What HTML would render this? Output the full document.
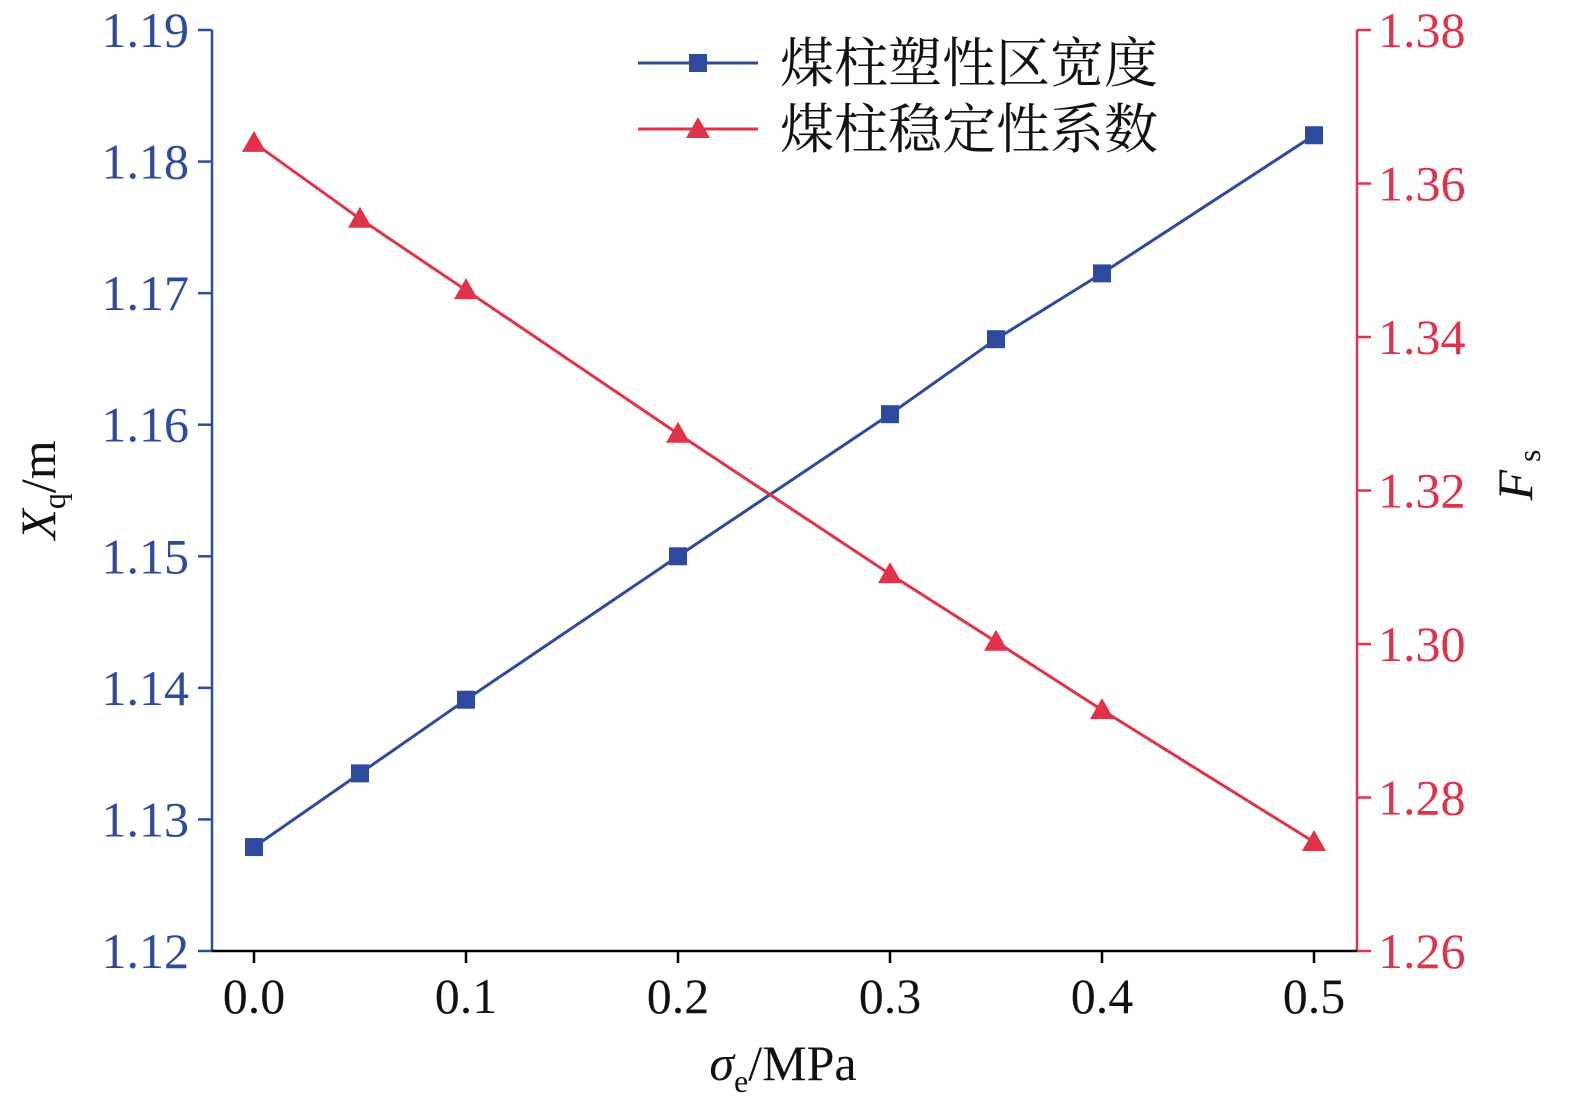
<!DOCTYPE html>
<html><head><meta charset="utf-8">
<style>
html,body{margin:0;padding:0;background:#fff;}
svg{display:block;}
text{font-family:"Liberation Serif","Noto Serif CJK SC",serif;}
</style></head>
<body>
<svg id="chart" width="1575" height="1113" viewBox="0 0 1575 1113" xmlns="http://www.w3.org/2000/svg"></svg>
<script>
const xValues = [0, 0.05, 0.1, 0.2, 0.3, 0.35, 0.4, 0.5];
const widthSeries = [1.1279, 1.1335, 1.1391, 1.1500, 1.1608, 1.1665, 1.1715, 1.1820];
const stabilitySeries = [1.3653, 1.3554, 1.3461, 1.3274, 1.3091, 1.3003, 1.2914, 1.2742];
const xTicks = [0.0, 0.1, 0.2, 0.3, 0.4, 0.5];
const leftTicks = [1.12, 1.13, 1.14, 1.15, 1.16, 1.17, 1.18, 1.19];
const rightTicks = [1.26, 1.28, 1.30, 1.32, 1.34, 1.36, 1.38];

const NS = "http://www.w3.org/2000/svg";
const svg = document.getElementById('chart');
const L = 212, R = 1357, T = 30, B = 951;
const BLUE = '#2e4a9e', RED = '#e0334a';
const xS = v => 254 + v * 2120;
const yL = v => B - (v - 1.12) / 0.07 * (B - T);
const yR = v => B - (v - 1.26) / 0.12 * (B - T);
function mk(tag, attrs, parent) {
  const e = document.createElementNS(NS, tag);
  for (const k in attrs) e.setAttribute(k, attrs[k]);
  (parent || svg).appendChild(e);
  return e;
}
const ax = mk('g', {});


mk('line', {x1: L, y1: T, x2: L, y2: B, stroke: BLUE, 'stroke-width': 2.5}, ax);
mk('line', {x1: R, y1: T, x2: R, y2: B, stroke: RED, 'stroke-width': 2.5}, ax);
mk('line', {x1: L, y1: B, x2: R, y2: B, stroke: '#000', 'stroke-width': 2.5}, ax);
xTicks.forEach(v => {
  mk('line', {x1: xS(v), y1: B, x2: xS(v), y2: B + 12, stroke: '#000', 'stroke-width': 2.5}, ax);
  const t = mk('text', {x: xS(v), y: 1013, 'text-anchor': 'middle', 'font-size': 50, fill: '#111'}, ax);
  t.textContent = v.toFixed(1);
  
  
});
leftTicks.forEach(v => {
  mk('line', {x1: L - 14, y1: yL(v), x2: L, y2: yL(v), stroke: BLUE, 'stroke-width': 2.5}, ax);
  const t = mk('text', {x: 189, y: yL(v) + 17, 'text-anchor': 'end', 'font-size': 50, fill: BLUE}, ax);
  t.textContent = v.toFixed(2);
  
  
});
rightTicks.forEach(v => {
  mk('line', {x1: R, y1: yR(v), x2: R + 14, y2: yR(v), stroke: RED, 'stroke-width': 2.5}, ax);
  const t = mk('text', {x: 1378, y: yR(v) + 17, 'text-anchor': 'start', 'font-size': 50, fill: RED}, ax);
  t.textContent = v.toFixed(2);
  
  
});
const xt = mk('text', {x: 783, y: 1080, 'text-anchor': 'middle', 'font-size': 50, fill: '#111'});
xt.innerHTML = '<tspan font-style="italic">σ</tspan><tspan font-size="32" dy="12">e</tspan><tspan dy="-12">/MPa</tspan>';


const yt = mk('text', {x: 0, y: 0, 'text-anchor': 'middle', 'font-size': 50, fill: '#111', transform: 'translate(55,490) rotate(-90)'});
yt.innerHTML = '<tspan font-style="italic">X</tspan><tspan font-size="32" dy="10">q</tspan><tspan dy="-10">/m</tspan>';


const rt = mk('text', {x: 0, y: 0, 'text-anchor': 'middle', 'font-size': 50, fill: '#111', transform: 'translate(1532,475) rotate(-90)'});
rt.innerHTML = '<tspan font-style="italic">F</tspan><tspan font-size="32" dx="8" dy="8">s</tspan>';


function drawSeries(vals, ys, color, marker, name) {
  const g = mk('g', {});
  
  
  mk('polyline', {points: vals.map((v, i) => xS(xValues[i]) + ',' + ys(v)).join(' '), fill: 'none', stroke: color, 'stroke-width': 3}, g);
  vals.forEach((v, i) => {
    const x = xS(xValues[i]), y = ys(v);
    let m;
    if (marker === 'square') m = mk('rect', {x: x - 9, y: y - 9, width: 18, height: 18, fill: color}, g);
    else m = mk('polygon', {points: `${x},${y - 12} ${x - 12},${y + 9} ${x + 12},${y + 9}`, fill: color}, g);
    
    
  });
}
drawSeries(widthSeries, yL, BLUE, 'square', 'plastic-zone-width-series');
drawSeries(stabilitySeries, yR, RED, 'triangle', 'stability-coefficient-series');
const lg = mk('g', {});


mk('line', {x1: 638, y1: 63, x2: 758, y2: 63, stroke: BLUE, 'stroke-width': 3}, lg);
mk('rect', {x: 689, y: 54, width: 18, height: 18, fill: BLUE}, lg);
const l1 = mk('text', {x: 780, y: 82, 'font-size': 54, fill: '#111', 'font-family': '"Noto Serif CJK SC",serif'}, lg);
l1.textContent = '煤柱塑性区宽度';


mk('line', {x1: 638, y1: 129, x2: 758, y2: 129, stroke: RED, 'stroke-width': 3}, lg);
mk('polygon', {points: '698,117 686,138 710,138', fill: RED}, lg);
const l2 = mk('text', {x: 780, y: 148, 'font-size': 54, fill: '#111', 'font-family': '"Noto Serif CJK SC",serif'}, lg);
l2.textContent = '煤柱稳定性系数';


</script>
</body></html>
